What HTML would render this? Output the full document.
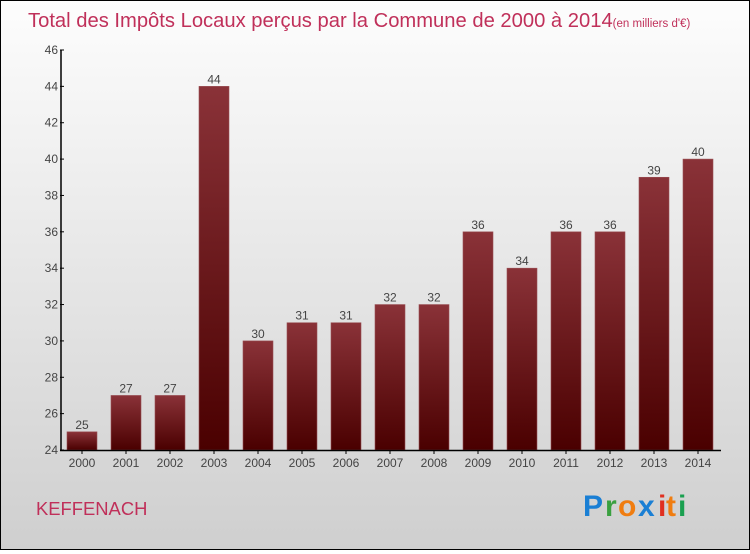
<!DOCTYPE html>
<html><head><meta charset="utf-8"><style>
body{margin:0;width:750px;height:550px;overflow:hidden;font-family:"Liberation Sans",sans-serif}
#wrap{position:absolute;left:0;top:0;width:748px;height:548px;border:1px solid #000;background:linear-gradient(#fdfdfd,#cfcfcf)}
</style></head><body>
<div id="wrap">
<svg width="748" height="548" id="svg">
<defs><linearGradient id="bg" x1="0" y1="0" x2="0" y2="1"><stop offset="0" stop-color="#8a3238"/><stop offset="1" stop-color="#4a0000"/></linearGradient></defs>
<text x="27" y="26" font-size="20.2" fill="#c0305a">Total des Impôts Locaux perçus par la Commune de 2000 à 2014<tspan font-size="11.5">(en milliers d'€)</tspan></text>
<text x="35" y="514" font-size="18.4" fill="#c0305a">KEFFENACH</text>
<g font-size="30" font-weight="bold">
<text x="582" y="515" fill="#1a7fd4">P</text><text x="604" y="515" fill="#3aa040">r</text><text x="617" y="515" fill="#f07d10">o</text><text x="637" y="515" fill="#1a7fd4">x</text><text x="657" y="515" fill="#e03020">i</text><text x="665" y="515" fill="#f07d10">t</text><text x="677" y="515" fill="#1aa050">i</text></g>
<g id="plot"></g>
</svg></div>
<script>
const years=["2000","2001","2002","2003","2004","2005","2006","2007","2008","2009","2010","2011","2012","2013","2014"];
const values=[25,27,27,44,30,31,31,32,32,36,34,36,36,39,40];
const ticks=[24,26,28,30,32,34,36,38,40,42,44,46];
const ns="http://www.w3.org/2000/svg";
const g=document.getElementById('plot');
const y=v=>449-(v-24)*400/22;
const x=i=>81+i*44;
function mk(t,a,txt){const e=document.createElementNS(ns,t);for(const k in a)e.setAttribute(k,a[k]);if(txt!==undefined)e.textContent=txt;g.appendChild(e);return e;}
values.forEach((v,i)=>{
 const r=mk('rect',{x:x(i)-15,y:y(v),width:30,height:449-y(v),fill:'url(#bg)',stroke:'#9a5055','stroke-width':0.6});
 
 
 const l=mk('text',{x:x(i),y:y(v)-3,'text-anchor':'middle','font-size':12,fill:'#444'},v);
 
 
 const t=mk('text',{x:x(i),y:466,'text-anchor':'middle','font-size':12,fill:'#444'},years[i]);
 
 
 mk('line',{x1:x(i),x2:x(i),y1:449,y2:453,stroke:'#000'});
});
ticks.forEach(v=>{
 mk('line',{x1:59,x2:63,y1:y(v),y2:y(v),stroke:'#000'});
 const t=mk('text',{x:57,y:y(v)+4,'text-anchor':'end','font-size':12,fill:'#444'},v);
 
 
});
const ya=mk('line',{x1:60,x2:60,y1:y(46),y2:450,stroke:'#000','stroke-width':1.5});


const xa=mk('line',{x1:59,x2:720,y1:449.5,y2:449.5,stroke:'#000','stroke-width':1.5});


</script>
</body></html>
